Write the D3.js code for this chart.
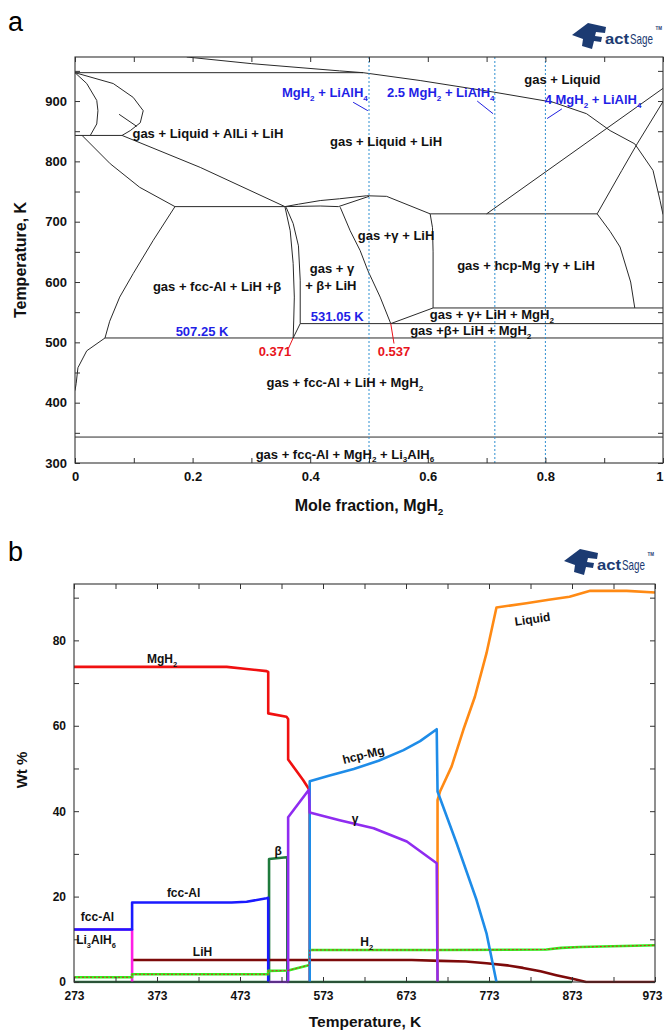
<!DOCTYPE html>
<html>
<head>
<meta charset="utf-8">
<script src="https://cdn.jsdelivr.net/npm/d3@7"></script>
<style>
  body { margin: 0; background: #fff; }
  svg text { font-family: Arial, "Liberation Sans", sans-serif; }
</style>
</head>
<body>
<svg id="chart" width="664" height="1030"></svg>
<script>
// ------------------------------------------------------------------
// Panel a: calculated LiAlH4–MgH2 phase diagram (mole fraction MgH2 vs T)
// Each boundary is a list of [mole fraction, temperature K] points.
// ------------------------------------------------------------------
const fracTicks      = [0, 0.1, 0.2, 0.3, 0.4, 0.5, 0.6, 0.7, 0.8, 0.9, 1];
const fracLabels     = [0, 0.2, 0.4, 0.6, 0.8, 1];
const tempTicksA     = [300, 350, 400, 450, 500, 550, 600, 650, 700, 750, 800, 850, 900, 950];
const tempLabelsA    = [300, 400, 500, 600, 700, 800, 900];
const compositions   = [0.5, 0.714, 0.8];   // MgH2+LiAlH4, 2.5MgH2+LiAlH4, 4MgH2+LiAlH4

const lihLiquidusUpper = [[0.19, 973], [0.30, 962], [0.45, 950], [0.49, 947]];
const lihLiquidus      = [[0.49, 947], [0.587, 934], [0.711, 915], [0.813, 898], [0.87, 879],
                          [0.91, 851], [0.952, 829], [0.983, 785], [0.995, 735], [1.0, 712]];
const isotherm947      = [[0, 947], [0.49, 947]];
const smallLoop        = [[0, 947], [0.020, 929], [0.037, 901], [0.039, 884], [0.037, 862], [0.026, 843]];
const bigLoop          = [[0, 947], [0.065, 929], [0.099, 906], [0.116, 884], [0.111, 864], [0.094, 851], [0.08, 843]];
const isotherm843      = [[0, 843], [0.08, 843]];
const fccLiquidus      = [[0.012, 843], [0.06, 796], [0.11, 757], [0.17, 725]];
const alliBoundary     = [[0.08, 843], [0.213, 790], [0.357, 725]];
const isotherm725      = [[0.17, 725], [0.357, 725]];
const fccSolvus        = [[0.051, 507.25], [0.059, 535], [0.076, 575], [0.099, 614], [0.133, 669], [0.17, 725]];
const fccLowSolvus     = [[0, 420], [0.002, 432], [0.005, 458], [0.02, 486], [0.051, 507.25]];
const gammaTop         = [[0.357, 725], [0.38, 729], [0.417, 735], [0.45, 738], [0.496, 743], [0.53, 742], [0.604, 713]];
const gammaTopInner    = [[0.357, 725], [0.417, 726], [0.448, 725], [0.50, 742]];
const betaLeft         = [[0.357, 725], [0.366, 685], [0.371, 631], [0.373, 575], [0.372, 537], [0.371, 507.25]];
const betaRight        = [[0.359, 724], [0.371, 697], [0.380, 660], [0.383, 603], [0.383, 531.05]];
const betaFoot         = [[0.383, 531.05], [0.371, 507.25]];
const gammaLeft        = [[0.451, 724], [0.468, 685], [0.485, 652], [0.498, 619], [0.519, 575], [0.537, 531.05]];
const gammaRight       = [[0.604, 713], [0.608, 690], [0.609, 650], [0.609, 557]];
const gammaFoot        = [[0.537, 531.05], [0.609, 557]];
const eutectic713      = [[0.604, 713], [0.888, 713]];
const mgLiquidus       = [[0.70, 713], [1.0, 921]];
const mgSolidus        = [[0.888, 713], [0.93, 785], [0.956, 829], [1.0, 899]];
const hcpRight         = [[0.888, 713], [0.91, 684], [0.927, 658], [0.945, 600], [0.952, 557]];
const isotherm557      = [[0.609, 557], [1, 557]];
const isotherm531      = [[0.383, 531.05], [1, 531.05]];
const isotherm507      = [[0.051, 507.25], [1, 507.25]];
const isotherm343      = [[0, 343], [1, 343]];
const loopPointer      = [[0.075, 878], [0.105, 858]];

const phaseBoundaries = [
  lihLiquidusUpper, lihLiquidus, isotherm947, smallLoop, bigLoop, isotherm843,
  fccLiquidus, alliBoundary, isotherm725, fccSolvus, fccLowSolvus, gammaTop,
  gammaTopInner, betaLeft, betaRight, betaFoot, gammaLeft, gammaRight, gammaFoot,
  eutectic713, mgLiquidus, mgSolidus, hcpRight, isotherm557, isotherm531,
  isotherm507, isotherm343, loopPointer
];

const pointer0371 = [[0.371, 507.25], [0.363, 490]];
const pointer0537 = [[0.537, 531.05], [0.5425, 498]];
const pointerMix1 = [[0.473, 898], [0.498, 884]];
const pointerMix2 = [[0.684, 900], [0.711, 879]];
const pointerMix3 = [[0.828, 887], [0.803, 871]];

// ------------------------------------------------------------------
// Panel b: equilibrium phase amounts (wt %) vs temperature (K)
// Each series is a list of [temperature K, wt %] points.
// ------------------------------------------------------------------
const tempTicksB  = [273, 323, 373, 423, 473, 523, 573, 623, 673, 723, 773, 823, 873, 923, 973];
const tempLabelsB = [273, 373, 473, 573, 673, 773, 873, 973];
const wtTicks     = [0, 10, 20, 30, 40, 50, 60, 70, 80, 90];
const wtLabels    = [0, 20, 40, 60, 80];

const mgh2Wt    = [[273, 73.8], [457, 73.8], [481, 73.3], [505, 72.8], [507, 72.6], [507, 62.9],
                   [529, 62.1], [531, 61.6], [531, 52.1], [549, 47.3], [556, 45.2], [557, 45], [557, 0]];
const fccAlWt   = [[273, 12.3], [343, 12.3], [343, 18.6], [463, 18.6], [481, 18.8], [505, 19.6],
                   [507, 19.7], [507, 0]];
const li3alh6Wt = [[273, 12.3], [343, 12.3], [343, 0]];
const lihWt     = [[343, 5.15], [680, 5.15], [715, 4.95], [745, 4.8], [770, 4.4], [795, 3.9],
                   [814, 3.3], [835, 2.5], [854, 1.6], [875, 0.7], [890, 0], [973, 0]];
const h2Wt      = [[273, 1.1], [343, 1.1], [343, 1.8], [507, 1.8], [507, 2.6], [531, 2.7],
                   [557, 4.0], [557, 7.5], [713, 7.5], [842, 7.6], [860, 8.0], [883, 8.2], [973, 8.6]];
const betaWt    = [[273, 0], [508, 0], [508, 28.8], [529, 29.2], [530, 29.2], [530, 0], [873, 0]];
const gammaWt   = [[508, 0], [531, 0], [531, 38.6], [556, 45], [557, 39.7], [593, 37.9],
                   [634, 36], [674, 32.9], [710, 27.8], [711, 0]];
const hcpMgWt   = [[557, 0], [557, 47.0], [580, 48.3], [610, 49.9], [640, 51.8], [670, 54.3],
                   [690, 56.4], [710, 59.2], [711, 44.6], [734, 32.5], [758, 19.2], [770, 11.4], [782, 0]];
const liquidWt  = [[711, 0], [711, 42.6], [714, 44.6], [728, 50.5], [742, 59], [756, 66.8],
                   [770, 77], [782, 87.7], [818, 88.7], [845, 89.5], [870, 90.2], [895, 91.6],
                   [939, 91.6], [973, 91.2]];

// ------------------------------------------------------------------
const svg = d3.select("#chart");
const INK = "#333";

// Text with "_x" subscripts, e.g. "MgH_2 + LiAlH_4"
function richText(sel, str, size) {
  const parts = str.split(/_(\w)/);
  let shift = 0;
  parts.forEach((p, i) => {
    if (p === "") return;
    const sub = i % 2 === 1;
    const target = sub ? size * 0.3 : 0;
    const ts = sel.append("tspan").text(p);
    if (target !== shift) { ts.attr("dy", target - shift); shift = target; }
    if (sub) ts.attr("font-size", size * 0.62);
  });
  return sel;
}

function addText(g, x, y, str, opt = {}) {
  const size = opt.size || 11;
  const t = g.append("text")
    .attr("x", x).attr("y", y)
    .attr("dy", "0.35em")
    .attr("text-anchor", opt.anchor || "middle")
    .attr("font-size", size)
    .attr("font-weight", opt.weight || "bold")
    .attr("fill", opt.color || "#111");
  if (opt.rotate) t.attr("transform", `rotate(${opt.rotate},${x},${y})`);
  return richText(t, str, size);
}

// Frame with inward ticks on all four sides, labels on left and bottom
function drawFrame(g, x, y, xt, xl, yt, yl, fmtX, fmtY, fontSize) {
  const [x0, x1] = x.range(), [y0, y1] = y.range();
  const style = a => a.call(s => s.select(".domain").remove())
    .call(s => s.selectAll(".tick line").attr("stroke", INK))
    .call(s => s.selectAll(".tick text").attr("font-size", fontSize).attr("font-weight", "bold")
      .attr("fill", "#111").attr("font-family", "Arial, 'Liberation Sans', sans-serif"));
  const bottom = g.append("g").attr("transform", `translate(0,${y0})`)
    .call(d3.axisBottom(x).tickValues(xt).tickSize(-5).tickPadding(9)
      .tickFormat(d => xl.includes(d) ? fmtX(d) : "")).call(style);
  g.append("g").attr("transform", `translate(0,${y1})`)
    .call(d3.axisTop(x).tickValues(xt).tickSize(-5).tickFormat("")).call(style);
  g.append("g").attr("transform", `translate(${x0},0)`)
    .call(d3.axisLeft(y).tickValues(yt).tickSize(-5).tickPadding(8)
      .tickFormat(d => yl.includes(d) ? fmtY(d) : "")).call(style);
  g.append("g").attr("transform", `translate(${x1},0)`)
    .call(d3.axisRight(y).tickValues(yt).tickSize(-5).tickFormat("")).call(style);
  g.append("rect").attr("x", x0).attr("y", y1).attr("width", x1 - x0).attr("height", y0 - y1)
    .attr("fill", "none").attr("stroke", INK).attr("stroke-width", 1.1);
  return bottom;
}

// FactSage mark
function drawLogo(g, x, y) {
  const navy = "#1c3b72";
  const lg = g.append("g").attr("transform", `translate(${x},${y})`);
  lg.append("path")
    .attr("d", "M0,12 L16,0 L34,4 L33,10 L24,9 L23,13 L30,14 L29,19 L22,18 L20,26 L10,23 L11,16 Z")
    .attr("fill", navy);
  lg.append("text").attr("x", 33).attr("y", 21).attr("font-size", 14).attr("font-weight", "bold")
    .attr("fill", navy).attr("textLength", 24).attr("lengthAdjust", "spacingAndGlyphs").text("act");
  lg.append("text").attr("x", 58).attr("y", 21).attr("font-size", 15)
    .attr("font-family", "'Liberation Serif', 'DejaVu Serif', serif")
    .attr("fill", navy).attr("textLength", 23).attr("lengthAdjust", "spacingAndGlyphs").text("Sage");
  lg.append("text").attr("x", 83.5).attr("y", 7).attr("font-size", 4.5).attr("font-weight", "bold")
    .attr("fill", navy).text("TM");
}

// ======================= panel a =======================
const xA = d3.scaleLinear([0, 1], [75, 663]);
const yA = d3.scaleLinear([300, 973], [463, 57]);
const gA = svg.append("g");
const lineA = d3.line().x(d => xA(d[0])).y(d => yA(d[1]));

gA.append("text").attr("x", 8).attr("y", 31).attr("font-size", 27).text("a");
drawLogo(gA, 572, 23);

const clipA = svg.append("clipPath").attr("id", "clipA");
clipA.append("rect").attr("x", 75).attr("y", 57).attr("width", 588).attr("height", 406);

gA.append("g").attr("clip-path", "url(#clipA)")
  .selectAll("path.phase").data(phaseBoundaries).join("path")
  .attr("d", lineA).attr("fill", "none").attr("stroke", "#2a2a2a").attr("stroke-width", 1);

gA.append("g").selectAll("line.comp").data(compositions).join("line")
  .attr("x1", d => xA(d)).attr("x2", d => xA(d))
  .attr("y1", yA(973)).attr("y2", yA(300))
  .attr("stroke", "#2f8fd0").attr("stroke-width", 1).attr("stroke-dasharray", "2,2");

[pointer0371, pointer0537].forEach(p =>
  gA.append("path").attr("d", lineA(p)).attr("fill", "none").attr("stroke", "#e8141b").attr("stroke-width", 1));
[pointerMix1, pointerMix2, pointerMix3].forEach(p =>
  gA.append("path").attr("d", lineA(p)).attr("fill", "none").attr("stroke", "#2020e0").attr("stroke-width", 1));

const axA = drawFrame(gA, xA, yA, fracTicks, fracLabels, tempTicksA, tempLabelsA, d3.format(""), d3.format(""), 13);
// keep the last fraction label inside the page
axA.selectAll(".tick text").filter(d => d === 1).attr("text-anchor", "end").attr("dx", 0);

const regionA = [
  ["gas + Liquid + AlLi + LiH", 0.226, 847],
  ["gas + Liquid + LiH", 0.529, 833],
  ["gas + Liquid", 0.829, 935],
  ["gas + fcc-Al + LiH +β", 0.2415, 592],
  ["gas + γ", 0.437, 623],
  ["+ β+ LiH", 0.435, 593.5],
  ["gas +γ + LiH", 0.546, 678],
  ["gas + hcp-Mg +γ + LiH", 0.767, 627],
  ["gas +  γ+ LiH + MgH_2", 0.709, 545.5],
  ["gas +β+ LiH + MgH_2", 0.673, 519.5],
  ["gas + fcc-Al + LiH + MgH_2", 0.459, 433],
  ["gas + fcc-Al + MgH_2 + Li_3AlH_6", 0.459, 315]
];
regionA.forEach(([t, x, T]) => addText(gA, xA(x), yA(T), t, { size: 13 }));

const mixLabels = [
  ["MgH_2 + LiAlH_4", 0.425, 913.5],
  ["2.5 MgH_2 +  LiAlH_4", 0.622, 913.5],
  ["4 MgH_2 +  LiAlH_4", 0.881, 902]
];
mixLabels.forEach(([t, x, T]) => addText(gA, xA(x), yA(T), t, { size: 13, color: "#1f1fe6" }));

addText(gA, xA(0.216), yA(517.5), "507.25 K", { size: 13, color: "#1f1fe6" });
addText(gA, xA(0.446), yA(543.7), "531.05 K", { size: 13, color: "#1f1fe6" });
addText(gA, xA(0.340), yA(484.5), "0.371", { size: 13, color: "#e8141b" });
addText(gA, xA(0.5425), yA(484.5), "0.537", { size: 13, color: "#e8141b" });

addText(gA, 369, 505, "Mole fraction, MgH_2", { size: 16 });
addText(gA, 20, 260, "Temperature, K", { size: 16, rotate: -90 });

// ======================= panel b =======================
const xB = d3.scaleLinear([273, 973], [74, 655]);
const yB = d3.scaleLinear([0, 93.2], [982, 584]);
const gB = svg.append("g");
const lineB = d3.line().x(d => xB(d[0])).y(d => yB(d[1]));

gB.append("text").attr("x", 8).attr("y", 561).attr("font-size", 27).text("b");
drawLogo(gB, 564, 549);

const clipB = svg.append("clipPath").attr("id", "clipB");
clipB.append("rect").attr("x", 74).attr("y", 584).attr("width", 581).attr("height", 399.5);

const plotB = gB.append("g").attr("clip-path", "url(#clipB)");
const seriesB = [
  { data: betaWt,    color: "#1f7a3c" },
  { data: lihWt,     color: "#7d0a0a" },
  { data: li3alh6Wt, color: "#ff1ee6" },
  { data: fccAlWt,   color: "#1a1aff" },
  { data: mgh2Wt,    color: "#f01010" },
  { data: h2Wt,      color: "#33ee22" },
  { data: liquidWt,  color: "#ff8a14" },
  { data: hcpMgWt,   color: "#1e8ce8" },
  { data: gammaWt,   color: "#8f2cf0" }
];
seriesB.forEach(s => {
  plotB.append("path").attr("d", lineB(s.data)).attr("fill", "none")
    .attr("stroke", s.color).attr("stroke-width", 2.6).attr("stroke-linejoin", "round");
});
// red dotted overlay on the H2 curve
plotB.append("path").attr("d", lineB(h2Wt)).attr("fill", "none")
  .attr("stroke", "#e8141b").attr("stroke-width", 0.9).attr("stroke-dasharray", "2,2");

const axB = drawFrame(gB, xB, yB, tempTicksB, tempLabelsB, wtTicks, wtLabels, d3.format(""), d3.format(""), 12);
axB.selectAll(".tick text").filter(d => d === 973).attr("dx", -3);

const seriesLabels = [
  ["MgH_2", 379, 75.6, 0],
  ["fcc-Al", 405, 20.9, 0],
  ["fcc-Al", 301.3, 15.3, 0],
  ["Li_3AlH_6", 299.5, 9.8, 0],
  ["LiH", 427.8, 7.1, 0],
  ["β", 519, 30.8, 0],
  ["γ", 611.6, 38.3, 0],
  ["hcp-Mg", 621.6, 53.2, -14],
  ["Liquid", 825.4, 85, -8],
  ["H_2", 625.6, 9.4, 0]
];
seriesLabels.forEach(([t, T, w, r]) => addText(gB, xB(T), yB(w), t, { size: 12, rotate: r }));

addText(gB, 365, 1022, "Temperature, K", { size: 15.5 });
addText(gB, 22, 770, "Wt %", { size: 15 , rotate: -90 });
</script>
</body>
</html>
